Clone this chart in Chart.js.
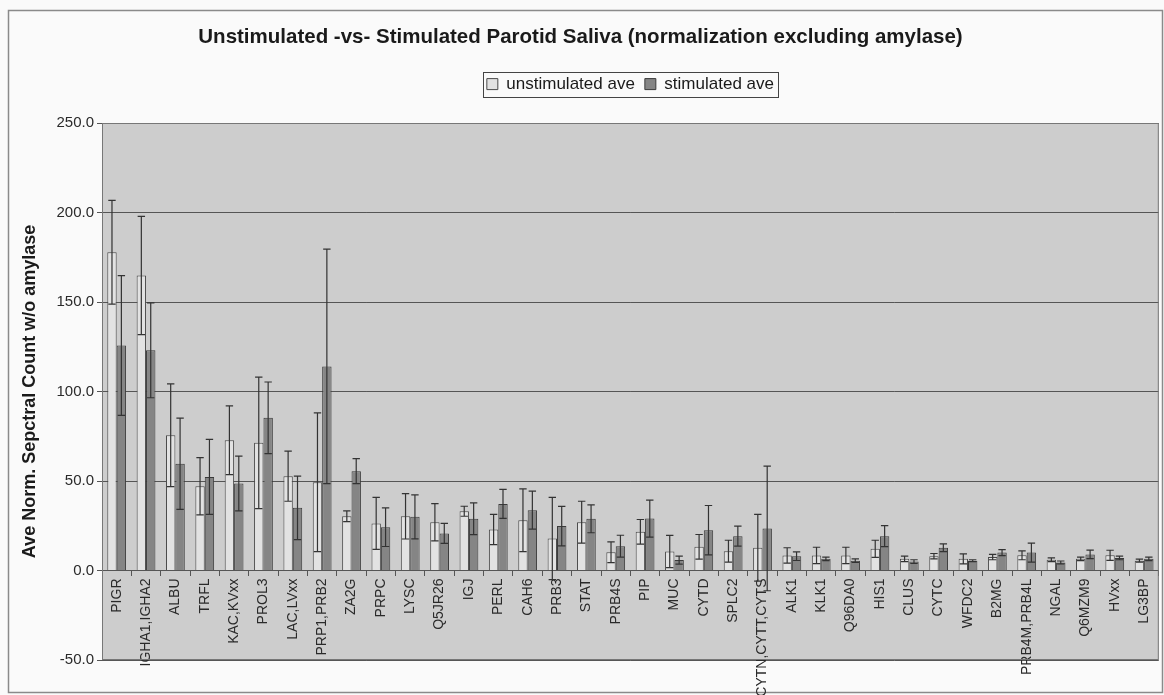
<!DOCTYPE html>
<html>
<head>
<meta charset="utf-8">
<script src="https://cdn.jsdelivr.net/npm/chart.js@4.4.1/dist/chart.umd.min.js"></script>
<style>
  html, body { margin: 0; padding: 0; background: #fafafa; }
  #salivaChart { display: block; }
</style>
</head>
<body>
<canvas id="salivaChart" width="1164" height="695"></canvas>
<script>
// podatki odcitani iz grafa
const categories = ['PIGR', 'IGHA1,IGHA2', 'ALBU', 'TRFL', 'KAC,KVxx', 'PROL3', 'LAC,LVxx', 'PRP1,PRB2',
    'ZA2G', 'PRPC', 'LYSC', 'Q5JR26', 'IGJ', 'PERL', 'CAH6', 'PRB3', 'STAT', 'PRB4S', 'PIP', 'MUC',
    'CYTD', 'SPLC2', 'CYTN,CYTT,CYTS', 'ALK1', 'KLK1', 'Q96DA0', 'HIS1', 'CLUS', 'CYTC', 'WFDC2',
    'B2MG', 'PRB4M,PRB4L', 'NGAL', 'Q6MZM9', 'HVxx', 'LG3BP'];

const unstimulated = [177.8, 164.8, 75.6, 47.1, 72.8, 71.3, 52.7, 49.3, 30.3, 26.3, 30.3, 27.0,
    33.1, 22.9, 28.1, 17.9, 27.0, 10.2, 21.6, 10.6, 13.2, 10.8, 12.7, 8.4, 8.4, 8.4, 12.1, 6.5,
    8.0, 6.5, 7.5, 8.5, 6.0, 6.5, 8.5, 5.5];
const unstimulatedErr = [29.0, 33.0, 28.7, 16.0, 19.2, 36.7, 14.0, 38.8, 3.0, 14.5, 12.7, 10.4,
    2.8, 8.4, 17.5, 23.0, 11.7, 5.8, 6.9, 9.0, 6.9, 6.1, 18.6, 4.3, 4.6, 4.6, 4.8, 1.5,
    1.5, 2.8, 1.5, 2.5, 1.0, 1.0, 2.8, 0.8];

const stimulated = [125.7, 123.0, 59.6, 52.3, 48.6, 85.3, 35.0, 114.0, 55.5, 24.2, 30.0, 20.7,
    28.9, 37.2, 33.7, 24.8, 28.9, 13.6, 29.0, 5.8, 22.5, 19.2, 23.5, 8.0, 6.5, 5.5, 19.2, 5.0,
    12.7, 5.5, 10.0, 10.0, 4.5, 9.0, 7.0, 6.5];
const stimulatedErr = [39.0, 26.5, 25.5, 20.9, 15.3, 20.0, 17.7, 65.5, 7.0, 10.8, 12.3, 5.6,
    8.9, 8.1, 10.6, 11.0, 7.8, 6.1, 10.3, 2.2, 13.8, 5.6, 34.8, 2.4, 1.0, 1.0, 5.9, 1.0,
    2.2, 0.5, 1.7, 5.3, 0.8, 2.4, 1.0, 1.0];

const yTicks = [-50, 0, 50, 100, 150, 200, 250];

// ozadje, okvirji in okvir legende
const framePlugin = {
    id: 'frame',
    beforeDraw(chart) {
        const { ctx, chartArea: a } = chart;
        ctx.save();
        ctx.strokeStyle = '#8a8a8a';
        ctx.lineWidth = 1.5;
        ctx.strokeRect(8.5, 10.5, chart.width - 10, chart.height - 13);
        ctx.fillStyle = '#cdcdcd';
        ctx.fillRect(a.left, a.top, a.right - a.left, a.bottom - a.top);
        ctx.restore();
    },
    afterDraw(chart) {
        const { ctx, chartArea: a } = chart;
        ctx.save();
        ctx.strokeStyle = '#777';
        ctx.lineWidth = 1;
        ctx.strokeRect(a.left + 0.5, a.top + 0.5, a.right - a.left - 1, a.bottom - a.top - 1);
        const boxes = chart.legend.legendHitBoxes;
        if (boxes && boxes.length) {
            const x0 = Math.min(...boxes.map(b => b.left)) - 4;
            const x1 = Math.max(...boxes.map(b => b.left + b.width)) + 4;
            const y0 = Math.min(...boxes.map(b => b.top)) - 4;
            const y1 = Math.max(...boxes.map(b => b.top + b.height)) + 4;
            ctx.strokeStyle = '#444';
            ctx.strokeRect(Math.round(x0) + 0.5, Math.round(y0) + 0.5, Math.round(x1 - x0), Math.round(y1 - y0));
        }
        ctx.restore();
    }
};

// error bars
const errorBarPlugin = {
    id: 'errorBars',
    afterDatasetsDraw(chart) {
        const ctx = chart.ctx;
        const y = chart.scales.y;
        const errs = [unstimulatedErr, stimulatedErr];
        ctx.save();
        ctx.strokeStyle = '#333';
        ctx.lineWidth = 1.2;
        errs.forEach((err, di) => {
            const meta = chart.getDatasetMeta(di);
            meta.data.forEach((bar, i) => {
                const v = chart.data.datasets[di].data[i];
                const top = y.getPixelForValue(v + err[i]);
                const bot = y.getPixelForValue(v - err[i]);
                const half = bar.width / 2 - 1;
                ctx.beginPath();
                ctx.moveTo(bar.x, top);
                ctx.lineTo(bar.x, bot);
                ctx.moveTo(bar.x - half, top);
                ctx.lineTo(bar.x + half, top);
                ctx.moveTo(bar.x - half, bot);
                ctx.lineTo(bar.x + half, bot);
                ctx.stroke();
            });
        });
        ctx.restore();
    }
};

document.addEventListener('DOMContentLoaded', function() {
    const ctx = document.getElementById('salivaChart').getContext('2d');
    Chart.defaults.font.family = '"Liberation Sans", Arial, sans-serif';
    Chart.defaults.color = '#2a2a2a';

    new Chart(ctx, {
        type: 'bar',
        data: {
            labels: categories,
            datasets: [{
                label: 'unstimulated ave',
                data: unstimulated,
                backgroundColor: '#e2e2e2',
                borderColor: '#4a4a4a',
                borderWidth: 1,
                barPercentage: 1.0,
                categoryPercentage: 0.64
            }, {
                label: 'stimulated ave',
                data: stimulated,
                backgroundColor: '#858585',
                borderColor: '#3a3a3a',
                borderWidth: 1,
                barPercentage: 1.0,
                categoryPercentage: 0.64
            }]
        },
        options: {
            responsive: false,
            animation: false,
            layout: { padding: { left: 0, right: 3, top: 0, bottom: 35 } },
            scales: {
                x: {
                    position: { y: 0 },
                    grid: { drawOnChartArea: false, tickLength: 5, color: '#555' },
                    border: { color: '#555' },
                    ticks: {
                        autoSkip: false,
                        minRotation: 90,
                        maxRotation: 90,
                        padding: 3,
                        color: '#2a2a2a',
                        font: { size: 14 }
                    }
                },
                y: {
                    min: -50,
                    max: 250,
                    afterFit(scale) { scale.width = 102; },
                    afterBuildTicks(scale) { scale.ticks = yTicks.map(v => ({ value: v })); },
                    grid: { color: '#555', tickLength: 5 },
                    border: { color: '#555' },
                    ticks: {
                        padding: 3,
                        color: '#2a2a2a',
                        font: { size: 15 },
                        callback: v => v.toFixed(1)
                    },
                    title: {
                        display: true,
                        text: 'Ave Norm. Sepctral Count w/o amylase',
                        color: '#1a1a1a',
                        font: { size: 18, weight: 'bold' },
                        padding: { top: 19, bottom: 0 }
                    }
                }
            },
            plugins: {
                title: {
                    display: true,
                    text: 'Unstimulated -vs- Stimulated Parotid Saliva (normalization excluding amylase)',
                    color: '#1a1a1a',
                    font: { size: 20.5, weight: 'bold' },
                    padding: { top: 25, bottom: 16 }
                },
                // prazen podnaslov kot razmik med legendo in grafom
                subtitle: {
                    display: true,
                    text: ' ',
                    weight: 500,
                    font: { size: 2 },
                    padding: { top: 18, bottom: 0 }
                },
                legend: {
                    fullSize: false,
                    labels: {
                        boxWidth: 11,
                        boxHeight: 11,
                        padding: 10,
                        color: '#1a1a1a',
                        font: { size: 17 }
                    }
                },
                tooltip: { enabled: false }
            }
        },
        plugins: [framePlugin, errorBarPlugin]
    });
});
</script>
</body>
</html>
